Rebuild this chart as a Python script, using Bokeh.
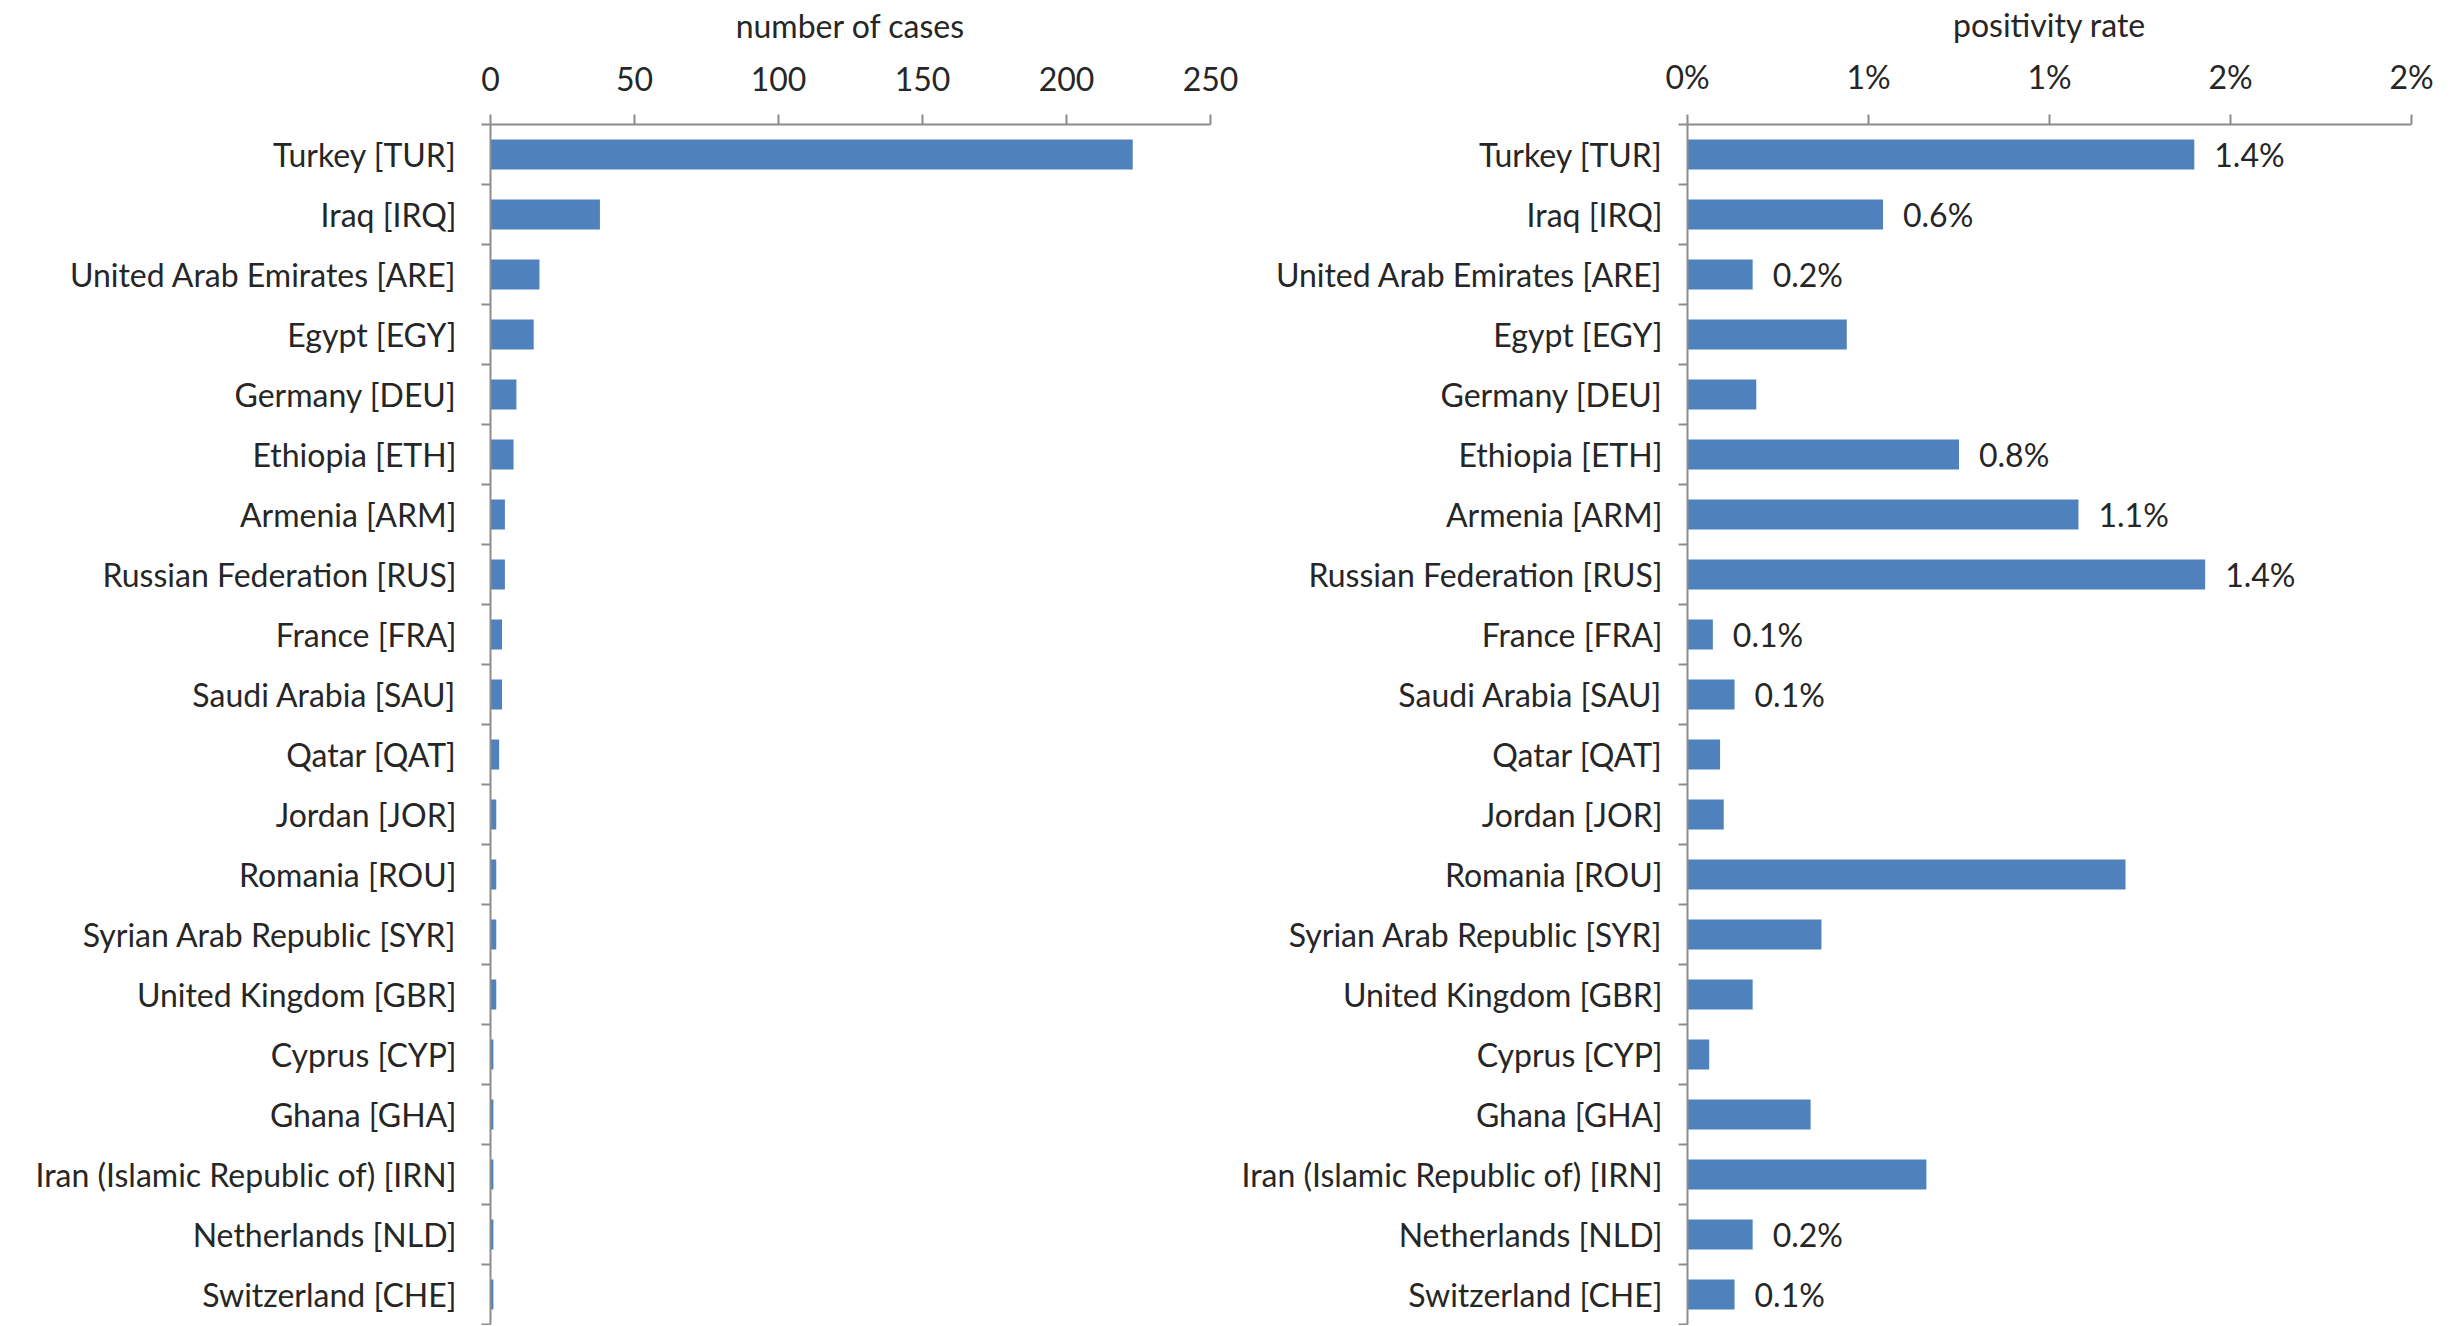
from bokeh.plotting import figure
from bokeh.layouts import row
from bokeh.models import ColumnDataSource, FixedTicker, LabelSet, Range1d
from bokeh.core.properties import value
from bokeh.embed import file_html
from bokeh.resources import INLINE

countries = [
    "Turkey [TUR]", "Iraq [IRQ]", "United Arab Emirates [ARE]", "Egypt [EGY]",
    "Germany [DEU]", "Ethiopia [ETH]", "Armenia [ARM]", "Russian Federation [RUS]",
    "France [FRA]", "Saudi Arabia [SAU]", "Qatar [QAT]", "Jordan [JOR]",
    "Romania [ROU]", "Syrian Arab Republic [SYR]", "United Kingdom [GBR]",
    "Cyprus [CYP]", "Ghana [GHA]", "Iran (Islamic Republic of) [IRN]",
    "Netherlands [NLD]", "Switzerland [CHE]",
]
cases = [223, 38, 17, 15, 9, 8, 5, 5, 4, 4, 3, 2, 2, 2, 2, 1, 1, 1, 1, 1]
# positivity rate as fraction
rate = [0.0140, 0.0054, 0.0018, 0.0044, 0.0019, 0.0075, 0.0108, 0.0143,
        0.0007, 0.0013, 0.0009, 0.0010, 0.0121, 0.0037, 0.0018, 0.0006,
        0.0034, 0.0066, 0.0018, 0.0013]
rate_labels = ["1.4%", "0.6%", "0.2%", "", "", "0.8%", "1.1%", "1.4%",
               "0.1%", "0.1%", "", "", "", "", "", "", "", "", "0.2%", "0.1%"]
cases_ticks = [0, 50, 100, 150, 200, 250]
rate_ticks = [0.0, 0.005, 0.010, 0.015, 0.020]
rate_tick_labels = ["0%", "1%", "1%", "2%", "2%"]

FONT = "Lato"
FS = "32px"
TXT = "#262626"
AX = "#8c8c8c"
BAR = "#4F81BD"

n = len(countries)
idx = list(range(n))
src = ColumnDataSource(dict(y=idx, name=countries, cases=cases, rate=rate, lab=rate_labels))
centers = idx
bounds = [i - 0.5 for i in range(n + 1)]


def style(p, title, standoff, tick_standoff, title_standoff):
    p.outline_line_color = None
    p.xgrid.grid_line_color = None
    p.ygrid.grid_line_color = None
    p.background_fill_color = "white"
    p.border_fill_color = "white"
    xa = p.xaxis[0]
    xa.axis_label = title
    xa.axis_label_text_font = FONT
    xa.axis_label_text_font_size = FS
    xa.axis_label_text_font_style = "normal"
    xa.axis_label_text_color = TXT
    xa.axis_label_standoff = title_standoff
    xa.major_label_text_font = FONT
    xa.major_label_text_font_size = FS
    xa.major_label_text_color = TXT
    xa.major_label_standoff = tick_standoff
    xa.axis_line_color = AX
    xa.axis_line_width = 2
    xa.major_tick_line_color = AX
    xa.major_tick_line_width = 2
    xa.major_tick_out = 10
    xa.major_tick_in = 0
    xa.minor_tick_line_color = None
    ya = p.yaxis[0]
    ya.ticker = FixedTicker(ticks=centers, minor_ticks=bounds)
    ya.major_label_overrides = {i: c for i, c in enumerate(countries)}
    ya.axis_line_color = AX
    ya.axis_line_width = 2
    ya.major_tick_line_color = None
    ya.major_tick_out = 0
    ya.major_tick_in = 0
    ya.minor_tick_line_color = AX
    ya.minor_tick_line_width = 2
    ya.minor_tick_out = 9
    ya.minor_tick_in = 0
    ya.major_label_text_font = FONT
    ya.major_label_text_font_size = FS
    ya.major_label_text_color = TXT
    ya.major_label_standoff = standoff


H = 1325
TOP = 124
p1 = figure(width=1238, height=H, x_axis_location="above",
            x_range=Range1d(0, 250), y_range=Range1d(n - 0.5, -0.5),
            min_border_left=490, min_border_right=28, min_border_top=TOP,
            min_border_bottom=1, output_backend="svg", toolbar_location=None)
p1.hbar(y="y", left=0, right="cases", height=0.5, source=src,
        fill_color=BAR, line_color=None)
style(p1, "number of cases", 25, 24, 19)
p1.xaxis[0].ticker = FixedTicker(ticks=cases_ticks)

p2 = figure(width=1203, height=H, x_axis_location="above",
            x_range=Range1d(0, 0.02), y_range=Range1d(n - 0.5, -0.5),
            min_border_left=447, min_border_right=30, min_border_top=TOP,
            min_border_bottom=1, output_backend="svg", toolbar_location=None)
p2.hbar(y="y", left=0, right="rate", height=0.5, source=src,
        fill_color=BAR, line_color=None)
style(p2, "positivity rate", 16, 19, 10)
p2.xaxis[0].ticker = FixedTicker(ticks=rate_ticks)
p2.xaxis[0].major_label_overrides = {t: l for t, l in zip(rate_ticks, rate_tick_labels)}

vals = LabelSet(x="rate", y="y", text="lab", source=src, x_offset=20,
                text_align="left", text_baseline="middle",
                text_font=value(FONT), text_font_size=value(FS), text_color=TXT)
p2.add_layout(vals)

layout = row(p1, p2)
open("out.html", "w").write(file_html(layout, INLINE))
